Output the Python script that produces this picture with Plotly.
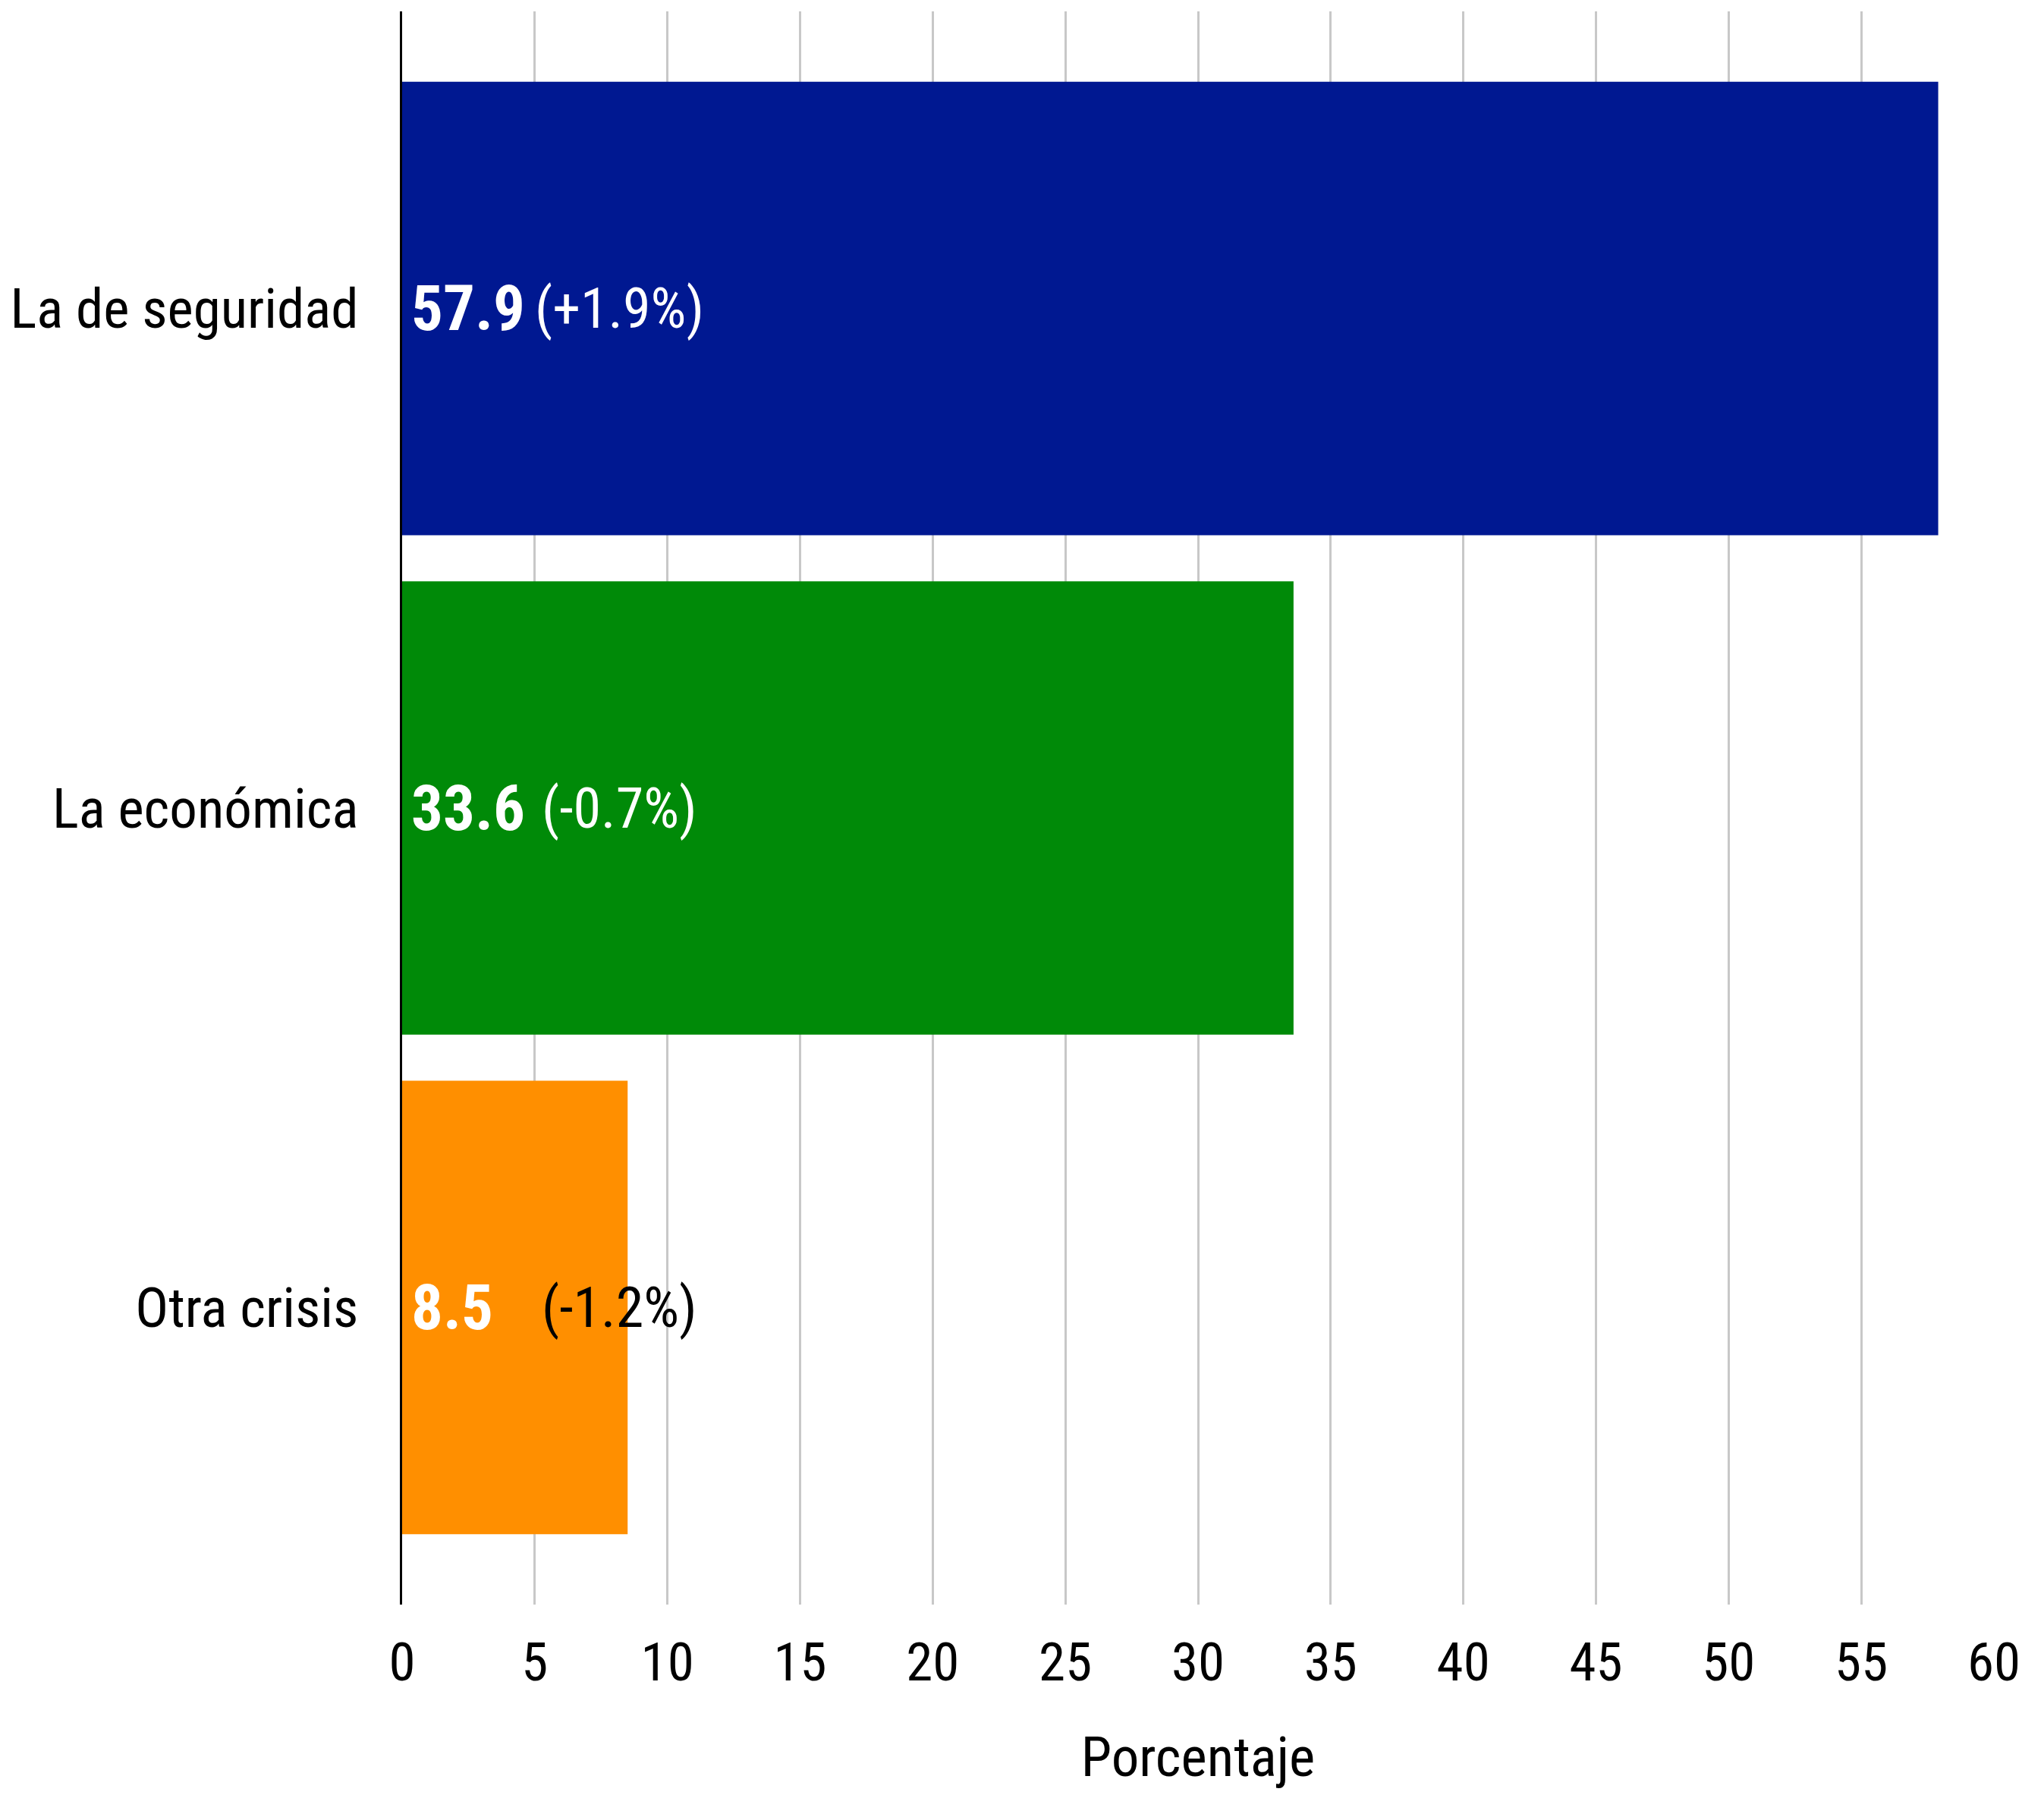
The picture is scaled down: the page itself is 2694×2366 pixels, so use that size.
import plotly.graph_objects as go

categories = ["La de seguridad", "La económica", "Otra crisis"]
values = [57.9, 33.6, 8.5]
changes = ["(+1.9%)", "(-0.7%)", "(-1.2%)"]
colors = ["#001891", "#008a08", "#ff8f00"]
change_colors = ["white", "white", "black"]
x_ticks = list(range(0, 61, 5))

FONT = "Roboto Condensed, Liberation Sans Narrow, Roboto, sans-serif"

fig = go.Figure()
fig.add_trace(go.Bar(
    x=values, y=categories, orientation="h",
    marker=dict(color=colors, line=dict(width=0)),
    hoverinfo="skip", showlegend=False,
))

for cat, v, ch, cc in zip(categories, values, changes, change_colors):
    fig.add_annotation(x=0, y=cat, text=f"<b>{v}</b>", showarrow=False,
                       xanchor="left", yanchor="middle", xshift=10,
                       font=dict(family=FONT, size=83, color="white"))
    fig.add_annotation(x=8.2, y=cat, text=ch, showarrow=False,
                       xanchor="center", yanchor="middle",
                       font=dict(family=FONT, size=74, color=cc))

fig.update_layout(
    width=2694, height=2366,
    margin=dict(l=522, r=74, t=7, b=259),
    paper_bgcolor="white", plot_bgcolor="white",
    bargap=0.092,
    font=dict(family=FONT, color="black"),
    xaxis=dict(range=[0, 60], tickvals=x_ticks, showgrid=True, automargin=False,
               gridcolor="#c8c8c8", gridwidth=3, zeroline=False,
               tickfont=dict(size=71, color="black"), ticks="",
               ticklabelstandoff=28,
               title=dict(text="Porcentaje", font=dict(size=73, color="black"), standoff=58)),
    yaxis=dict(categoryorder="array", categoryarray=categories, automargin=False,
               range=[2.595, -0.595], showline=True, linecolor="black", linewidth=3,
               showgrid=False, zeroline=False, ticks="",
               tickfont=dict(size=73, color="black"), ticklabelstandoff=40),
)

fig.write_html("out.html")
